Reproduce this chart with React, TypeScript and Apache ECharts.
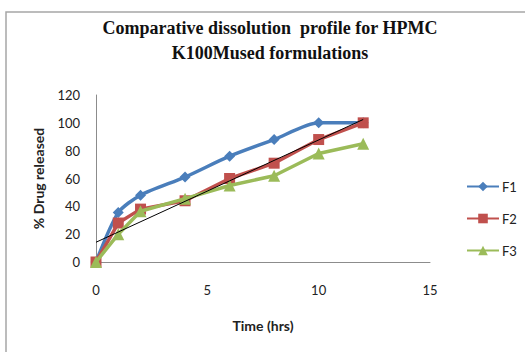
import React, { useEffect, useRef } from "react";
import * as echarts from "echarts";

const timeHrs = [0, 1, 2, 4, 6, 8, 10, 12];
const f1 = [0, 35.5, 48, 61, 76, 88, 100, 100];
const f2 = [0, 28, 38, 44, 60, 71, 88, 100];
const f3 = [0, 20, 36.5, 45.5, 55, 62, 78, 85];
const trendX = [0, 12];
const trendY = [14.2, 102.4];
const xTicks = [0, 5, 10, 15];
const yTicks = [0, 20, 40, 60, 80, 100, 120];
const titleLines = ["Comparative dissolution  profile for HPMC", "K100Mused formulations"];

const pair = (xs: number[], ys: number[]) => xs.map((x, i) => [x, ys[i]]);

export default function App() {
  const ref = useRef<HTMLDivElement>(null);
  useEffect(() => {
    if (!ref.current) return;
    const chart = echarts.init(ref.current, null, { renderer: "svg" });
    const labelFont = { fontFamily: "Lato", fontSize: 13, color: "#222" };
    const nameFont = { fontFamily: "Lato", fontSize: 14, fontWeight: "bold", color: "#222" };
    chart.setOption({
      animation: false,
      backgroundColor: "#fff",
      graphic: [
        {
          type: "rect",
          shape: { x: 6, y: 12, width: 700, height: 500 },
          style: { fill: "none", stroke: "#a6a6a6", lineWidth: 1.5 },
          silent: true,
        },
        {
          type: "text",
          style: {
            text: titleLines[0],
            x: 270,
            y: 28,
            textAlign: "center",
            textVerticalAlign: "middle",
            font: "bold 18px 'Liberation Serif'",
            fill: "#111",
          },
        },
        {
          type: "text",
          style: {
            text: titleLines[1],
            x: 270,
            y: 53,
            textAlign: "center",
            textVerticalAlign: "middle",
            font: "bold 18px 'Liberation Serif'",
            fill: "#111",
          },
        },
      ],
      grid: { left: 96, top: 95, width: 334, height: 167, containLabel: false },
      xAxis: {
        type: "value",
        min: xTicks[0],
        max: xTicks[xTicks.length - 1],
        interval: 5,
        name: "Time (hrs)",
        nameLocation: "middle",
        nameGap: 56,
        nameTextStyle: nameFont,
        axisLine: { show: true, lineStyle: { color: "#8c8c8c", width: 1 } },
        axisTick: { show: false },
        splitLine: { show: false },
        axisLabel: { ...labelFont, margin: 21 },
      },
      yAxis: {
        type: "value",
        min: yTicks[0],
        max: yTicks[yTicks.length - 1],
        interval: 20,
        name: "% Drug released",
        nameLocation: "middle",
        nameGap: 51,
        nameRotate: 90,
        nameTextStyle: nameFont,
        axisLine: { show: true, lineStyle: { color: "#8c8c8c", width: 1 } },
        axisTick: { show: false },
        splitLine: { show: false },
        axisLabel: { ...labelFont, margin: 16 },
      },
      legend: {
        orient: "vertical",
        left: 461,
        top: 175,
        itemWidth: 32,
        itemHeight: 12,
        itemGap: 19,
        data: ["F1", "F2", "F3"],
        textStyle: { fontFamily: "Lato", fontSize: 13, color: "#222", padding: [0, 0, 0, -2] },
      },
      series: [
        {
          name: "F1",
          type: "line",
          data: pair(timeHrs, f1),
          smooth: 0.25,
          symbol: "diamond",
          symbolSize: 11,
          lineStyle: { width: 3.5, color: "#4a7ebb" },
          itemStyle: { color: "#4a7ebb" },
          z: 3,
        },
        {
          name: "F2",
          type: "line",
          data: pair(timeHrs, f2),
          symbol: "rect",
          symbolSize: 11,
          lineStyle: { width: 3.5, color: "#c0504d" },
          itemStyle: { color: "#c0504d" },
          z: 3,
        },
        {
          name: "F3",
          type: "line",
          data: pair(timeHrs, f3),
          symbol: "triangle",
          symbolSize: 12,
          lineStyle: { width: 3.5, color: "#9bbb59" },
          itemStyle: { color: "#9bbb59" },
          z: 4,
        },
        {
          name: "Linear (F2)",
          type: "line",
          data: pair(trendX, trendY),
          symbol: "none",
          lineStyle: { width: 1, color: "#000" },
          z: 5,
        },
      ],
    });
    return () => chart.dispose();
  }, []);
  return (
    <div
      ref={ref}
      style={{ position: "absolute", left: 0, top: 0, width: 525, height: 352 }}
    />
  );
}
